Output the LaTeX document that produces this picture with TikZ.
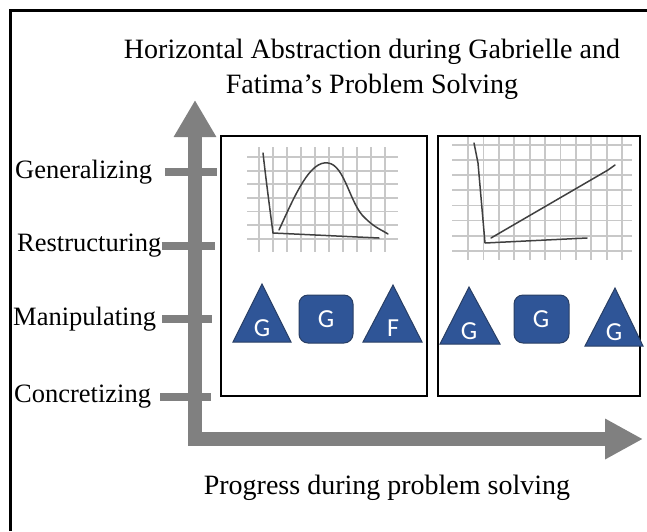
\documentclass[tikz,border=0pt]{standalone}
\usepackage{fontspec}
\setmainfont{Liberation Serif}
\newfontfamily\lettersf{Carlito}
\usetikzlibrary{positioning,arrows.meta}

\definecolor{axisgray}{RGB}{128,128,128}
\definecolor{gridgray}{RGB}{200,200,200}
\definecolor{shapeblue}{RGB}{47,85,151}
\definecolor{shapeedge}{RGB}{40,62,100}

\tikzset{
  level/.style={anchor=west, inner sep=0pt, font=\fontsize{26.5}{30}\selectfont},
  tick/.style={axisgray, line width=8pt},
  panel/.style={draw=black, line width=2pt},
  sketch/.style={black!75, line width=1.5pt, line cap=round, line join=round},
  gridline/.style={gridgray, line width=1.8pt},
  blueshape/.style={fill=shapeblue, draw=shapeedge, line width=1pt},
  letter/.style={text=white, inner sep=0pt, font=\lettersf\fontsize{26}{26}\selectfont},
}

\begin{document}
\begin{tikzpicture}[x=1pt, y=-1pt]
    \useasboundingbox (0,0) rectangle (647,531);

    % outer frame
    \draw[line width=3pt] (10.5,531) -- (10.5,10.5) -- (647,10.5);

    \node[align=center, inner sep=0pt, font=\fontsize{28}{35}\selectfont] (title) at (372,69)
        {Horizontal Abstraction during Gabrielle and\\Fatima’s Problem Solving};

    % axes
    \draw[axisgray, line width=14pt, {Triangle[length=37pt,width=40pt]}-{Triangle[length=38pt,width=38pt]}]
        (195,100) |- (643,439);

    % levels
    \node[level] (gen) at (15,172) {Generalizing};
    \node[level] (res) at (17,246) {Restructuring};
    \node[level] (man) at (13,319) {Manipulating};
    \node[level] (con) at (14,397) {Concretizing};
    \draw[tick] (165,172) -- (217,172);
    \draw[tick] (res.east) -- (215,246);
    \draw[tick] (162,319) -- (212,319);
    \draw[tick] (160,397) -- (211,397);

    \node[inner sep=0pt, font=\fontsize{28}{30}\selectfont] (progress) at (387,488)
        {Progress during problem solving};

    % first panel
    \draw[panel] (221,136) rectangle (427,396);
    \foreach \gx in {0,...,9}
        \draw[gridline] (259+14*\gx,147) -- (259+14*\gx,252);
    \foreach \gy in {0,...,6}
        \draw[gridline] (247,157+13.6*\gy) -- (398,157+13.6*\gy);
    \draw[sketch] (263,153) .. controls (266,180) and (270,210) .. (273,233) -- (379,238);
    \draw[sketch] (279,230) .. controls (295,195) and (310,160) .. (328,163)
        .. controls (345,165) and (350,205) .. (365,218) .. controls (375,228) and (382,230) .. (388,234);

    \fill[blueshape] (233,342) -- (262,284) -- (291,342) -- cycle;
    \node[letter] (g1) at (262,328) {G};
    \fill[blueshape, rounded corners=9pt] (299,295) rectangle (353,343);
    \node[letter] (g2) at (326,319) {G};
    \fill[blueshape] (363,342) -- (393,285) -- (422,342) -- cycle;
    \node[letter] (f1) at (393,328) {F};

    % second panel
    \draw[panel] (438,136) rectangle (640,396);
    \foreach \gx in {0,...,10}
        \draw[gridline] (468+15.4*\gx,137) -- (468+15.4*\gx,260);
    \foreach \gy in {0,...,7}
        \draw[gridline] (452,145+15.1*\gy) -- (632,145+15.1*\gy);
    \draw[sketch] (474,143) -- (478,163) -- (485,243) -- (587,238);
    \draw[sketch] (491,238) -- (608,170) -- (615,165);

    \fill[blueshape] (440,344) -- (469,287) -- (500,344) -- cycle;
    \node[letter] (g3) at (469,331) {G};
    \fill[blueshape, rounded corners=9pt] (514,295) rectangle (569,343);
    \node[letter] (g4) at (541,319) {G};
    \fill[blueshape] (585,346) -- (615,288) -- (643,346) -- cycle;
    \node[letter] (g5) at (614,332) {G};
\end{tikzpicture}
\end{document}
